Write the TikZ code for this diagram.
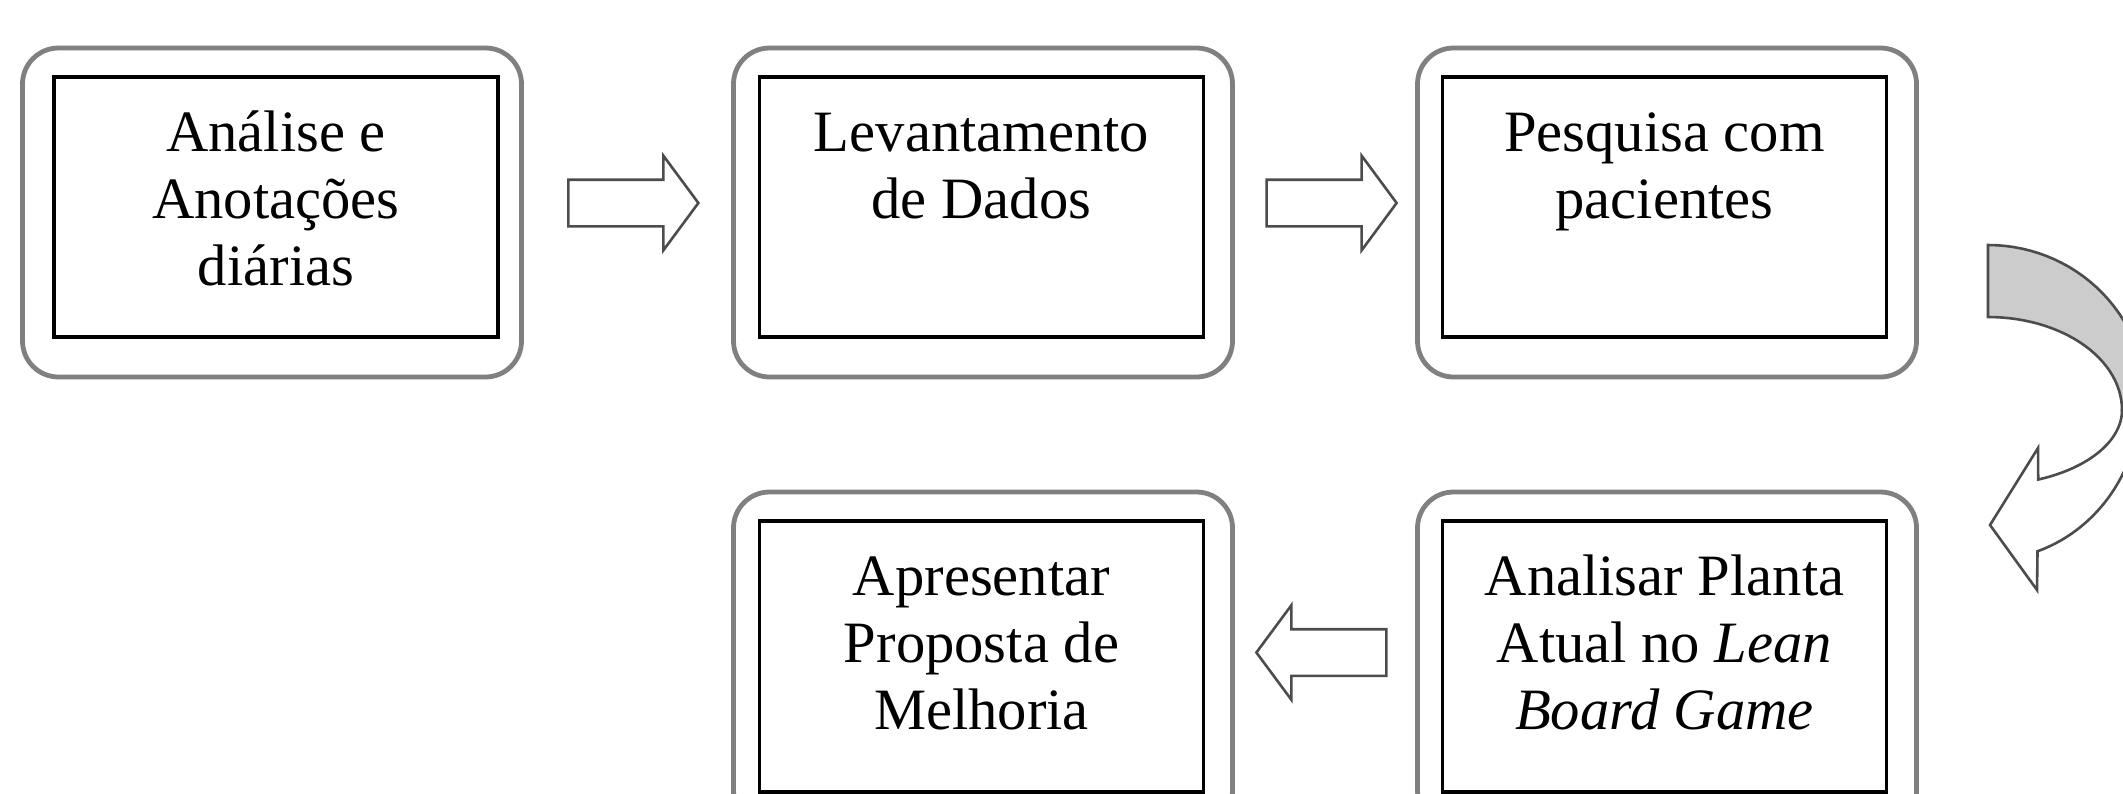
\documentclass[tikz,border=0pt]{standalone}
\usepackage{fontspec}
\setmainfont{Liberation Serif}
\usetikzlibrary{shapes.arrows, positioning, calc}

\begin{document}
\begin{tikzpicture}[
  x=0.5pt, y=-0.5pt,
  font=\fontsize{29.3}{33.5}\selectfont,
  stageframe/.style={
    rectangle, draw=gray, line width=2.4pt, rounded corners=18pt,
    minimum width=249.5pt, minimum height=164.5pt, inner sep=0pt
  },
  stagebox/.style={
    rectangle, draw=black, line width=1.7pt,
    minimum width=222pt, minimum height=130pt, inner sep=0pt
  },
  stagetext/.style={align=center, inner sep=0pt},
  blockarrow/.style={
    single arrow, draw=black!70, line width=1.3pt, fill=white,
    inner xsep=0pt, inner ysep=11pt, minimum height=65pt,
    single arrow head extend=12pt, single arrow tip angle=107, yshift=2pt
  },
  curlarrow/.style={draw=black!70, line width=1.3pt}
]

\clip (0,0) rectangle (2123,793);

% Outer frames
\node[stageframe] (analise-frame) at (272,212.5) {};
\node[stageframe] (levantamento-frame) at (983,212.5) {};
\node[stageframe] (pesquisa-frame) at (1667,212.5) {};
\node[stageframe, minimum height=167.5pt] (apresentar-frame) at (983,659.5) {};
\node[stageframe, minimum height=167.5pt] (analisar-frame) at (1667,659.5) {};

% Inner boxes
\node[stagebox] (analise) at (276,207) {};
\node[stagebox] (levantamento) at (981.5,207) {};
\node[stagebox] (pesquisa) at (1664.5,207) {};
\node[stagebox, minimum height=135.5pt] (apresentar) at (981.5,656.5) {};
\node[stagebox, minimum height=135.5pt] (analisar) at (1664.5,656.5) {};

% Texts
\node[stagetext, below=14.5pt of analise.north] (analise-text) {\strut Análise e\\Anotações\\diárias};
\node[stagetext, below=14.5pt of levantamento.north] (levantamento-text) {\strut Levantamento\\de Dados};
\node[stagetext, below=14.5pt of pesquisa.north] (pesquisa-text) {\strut Pesquisa com\\pacientes};
\node[stagetext, below=14.5pt of apresentar.north] (apresentar-text) {\strut Apresentar\\Proposta de\\Melhoria};
\node[stagetext, below=14.5pt of analisar.north] (analisar-text) {\strut Analisar Planta\\Atual no \textit{Lean}\\\textit{Board Game}};

% Block arrows
\node[blockarrow, xshift=-2pt] (seta1) at ($(analise.east)!0.5!(levantamento.west)$) {};
\node[blockarrow] (seta2) at ($(levantamento.east)!0.5!(pesquisa.west)$) {};
\node[blockarrow, shape border rotate=180, xshift=3.5pt] (seta3) at ($(apresentar.east)!0.5!(analisar.west)$) {};

% Curved arrow
\filldraw[curlarrow, fill=gray!40]
  plot[domain=-90:0, samples=30, variable=\t] ({1988+158*cos(\t)}, {400+155*sin(\t)})
  -- plot[domain=0:-90, samples=30, variable=\t] ({1988+134*cos(\t)}, {410+93*sin(\t)})
  -- cycle;
\filldraw[curlarrow, fill=white]
  plot[domain=0:68, samples=30, variable=\t] ({1988+134*cos(\t)}, {410+75*sin(\t)})
  -- (2038,448) -- (1990,525) -- (2037,590)
  -- plot[domain=71:0, samples=30, variable=\t] ({1988+152*cos(\t)}, {400+160*sin(\t)})
  -- cycle;

\end{tikzpicture}
\end{document}
